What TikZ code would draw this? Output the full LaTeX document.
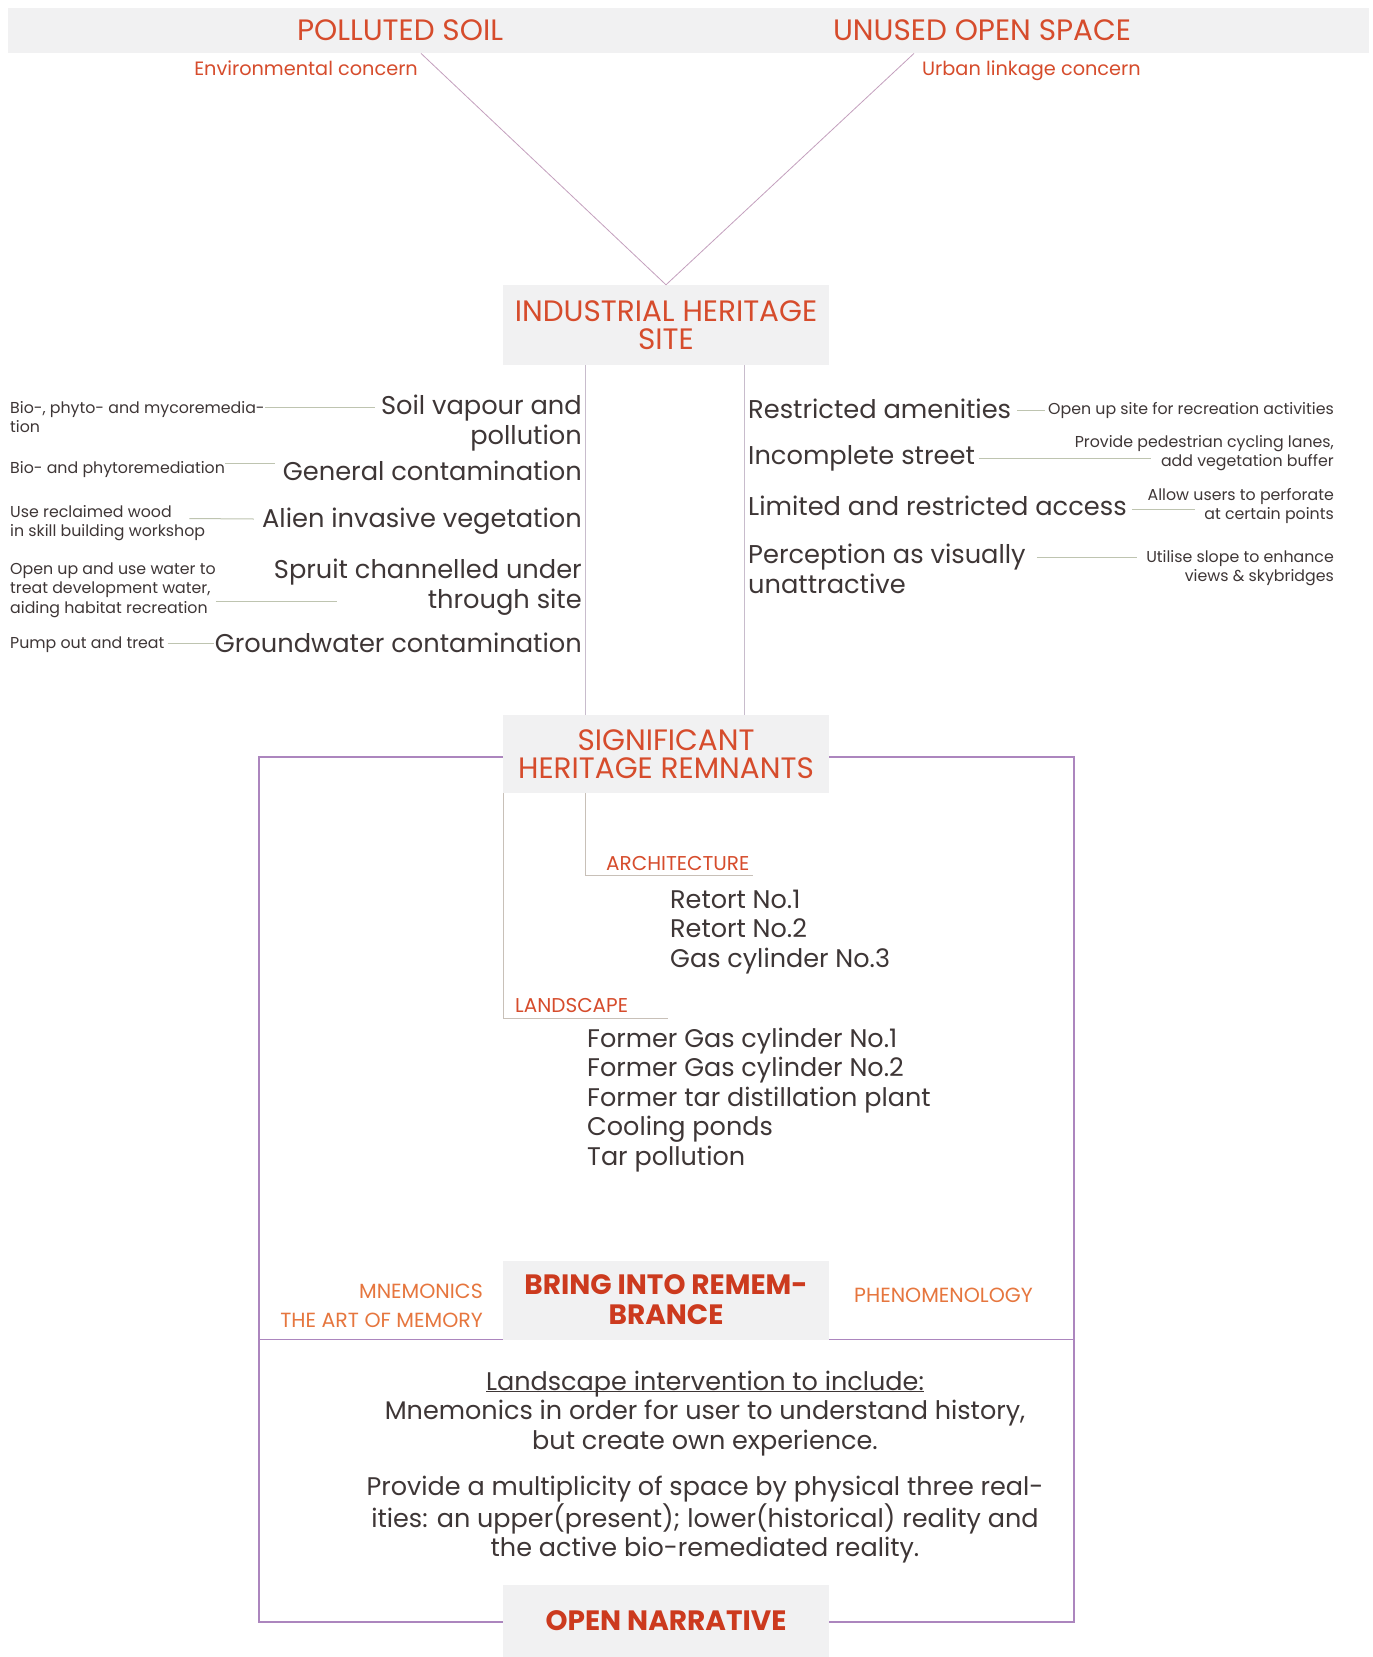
\documentclass[tikz,border=0pt]{standalone}
\usepackage{fontspec}
\setmainfont{Poppins}
\usetikzlibrary{calc}
\definecolor{tred}{RGB}{214,76,44}
\definecolor{tredb}{RGB}{204,58,30}
\definecolor{torange}{RGB}{230,118,62}
\definecolor{tgray}{RGB}{62,54,54}
\definecolor{boxgray}{RGB}{241,241,242}
\definecolor{framec}{RGB}{172,134,190}
\definecolor{vlinec}{RGB}{200,188,204}
\definecolor{nlinec}{RGB}{190,196,176}
\definecolor{tlinec}{RGB}{200,192,184}
\definecolor{dlinec}{RGB}{196,160,190}
\tikzset{
  title/.style={text=tred, inner sep=0, font=\fontsize{29.5}{28}\selectfont, align=center},
  btitle/.style={text=tredb, inner sep=0, font=\bfseries\fontsize{28}{30}\selectfont, align=center},
  olab/.style={text=torange, inner sep=0, font=\fontsize{20.5}{29}\selectfont},
  rlab/.style={text=tred, inner sep=0, font=\fontsize{20}{29}\selectfont},
  clab/.style={text=tred, inner sep=0, font=\fontsize{19.3}{29}\selectfont},
  big/.style={text=tgray, inner sep=0, font=\fontsize{25.7}{30}\selectfont},
  item/.style={text=tgray, inner sep=0, font=\fontsize{25.5}{29.5}\selectfont, align=left},
  small/.style={text=tgray, inner sep=0, font=\fontsize{15.8}{19.5}\selectfont},
  para/.style={text=tgray, inner sep=0, font=\fontsize{25.5}{29.5}\selectfont, align=center},
  gbox/.style={fill=boxgray, draw=none, minimum width=326, inner sep=0},
  frame/.style={draw=framec, line width=1.2pt},
  vline/.style={draw=vlinec, line width=1pt},
  nline/.style={draw=nlinec, line width=1pt},
  tline/.style={draw=tlinec, line width=1pt},
  dline/.style={draw=dlinec, line width=0.8pt},
}
\begin{document}
\begin{tikzpicture}[x=1pt,y=-1pt]
\useasboundingbox[fill=white] (0,0) rectangle (1373,1657);
% top band
\node[fill=boxgray, minimum width=1361, minimum height=45, inner sep=0, anchor=north west] (band) at (8,8) {};
\node[title] (ps) at (400,30) {POLLUTED SOIL};
\node[title] (uos) at (982,30) {UNUSED OPEN SPACE};
\node[clab, anchor=base east] (env) at (418,75) {Environmental concern};
\node[clab, anchor=base west] (urb) at (922,75) {Urban linkage concern};
% boxes
\node[gbox, minimum height=80] (ish) at (666,325) {};
\node[title] at (ish) {INDUSTRIAL HERITAGE\\SITE};
\node[gbox, minimum height=78] (shr) at (666,754) {};
\node[title] at (shr) {SIGNIFICANT\\HERITAGE REMNANTS};
\node[gbox, minimum height=79] (bir) at (666,1300) {};
\node[btitle] at (bir) {BRING INTO REMEM-\\BRANCE};
\node[gbox, minimum height=72] (on) at (666,1621) {};
\node[btitle] at (on) {OPEN NARRATIVE};
% V lines
\draw[dline] ($(ps.south |- band.south)+(21,0)$) -- (ish.north);
\draw[dline] ($(uos.south |- band.south)+(-68,0)$) -- (ish.north);
% verticals between boxes
\draw[vline] ($(ish.south west)+(83,0)$) -- ($(shr.north west)+(83,0)$);
\draw[vline] ($(ish.south east)+(-85,0)$) -- ($(shr.north east)+(-85,0)$);
% left problems
\node[big, anchor=east, align=right] (sv) at (582,423) {Soil vapour and\\pollution};
\node[big, anchor=east] (gc) at (582,471) {General contamination};
\node[big, anchor=east] (aiv) at (582,521) {Alien invasive vegetation};
\node[big, anchor=east, align=right] (spr) at (582,587.5) {Spruit channelled under\\through site};
\node[big, anchor=east] (gw) at (582,643) {Groundwater contamination};
% left notes
\node[small, anchor=west, align=left] (n1) at (10,417) {Bio-, phyto- and mycoremedia-\\tion};
\node[small, anchor=west] (n2) at (10,470) {Bio- and phytoremediation};
\node[small, anchor=west, align=left] (n3) at (10,523) {Use reclaimed wood\\in skill building workshop};
\node[small, anchor=west, align=left] (n4) at (10,590) {Open up and use water to\\treat development water,\\aiding habitat recreation};
\node[small, anchor=west] (n5) at (10,645) {Pump out and treat};
\draw[nline] ($(n1.east)+(0,-10)$) -- ($(sv.west)+(-6,-16)$);
\draw[nline] ($(n2.east)+(0,-7)$) -- ($(gc.west)+(-8,-8)$);
\draw[nline] ($(n3.east)+(-16,-4.5)$) -- ($(aiv.west)+(-8,-2)$);
\draw[nline] ($(n4.east)+(0,11)$) -- ($(spr.west)+(63,13.5)$);
\draw[nline] ($(n5.east)+(3,-2)$) -- ($(gw.west)+(-1,0)$);
% right problems
\node[big, anchor=west] (ra) at (748,409) {Restricted amenities};
\node[big, anchor=west] (ic) at (748,458) {Incomplete street};
\node[big, anchor=west] (lra) at (748,506) {Limited and restricted access};
\node[big, anchor=west, align=left] (pav) at (748,569) {Perception as visually\\unattractive};
% right notes
\node[small, anchor=east] (r1) at (1334,411) {Open up site for recreation activities};
\node[small, anchor=east, align=right] (r2) at (1334,453) {Provide pedestrian cycling lanes,\\add vegetation buffer};
\node[small, anchor=east, align=right] (r3) at (1334,506) {Allow users to perforate\\at certain points};
\node[small, anchor=east, align=right] (r4) at (1334,568) {Utilise slope to enhance\\views \& skybridges};
\draw[nline] ($(ra.east)+(6,1)$) -- ($(r1.west)+(-3,-1)$);
\draw[nline] ($(ic.east)+(4,0)$) -- ($(r2.west)+(76,5)$);
\draw[nline] ($(lra.east)+(5,3)$) -- ($(r3.west)+(47,3)$);
\draw[nline] ($(pav.east)+(11,-12)$) -- ($(r4.west)+(-9,-11)$);
% heritage tree
\node[rlab, anchor=west] (arch) at (606,863) {ARCHITECTURE};
\node[item, anchor=west] (ret) at (670,932) {Retort No.1\\Retort No.2\\Gas cylinder No.3};
\node[rlab, anchor=west] (land) at (515,1005) {LANDSCAPE};
\node[item, anchor=west] (litems) at (587,1100) {Former Gas cylinder No.1\\Former Gas cylinder No.2\\Former tar distillation plant\\Cooling ponds\\Tar pollution};
\draw[tline] ($(shr.south west)+(83,0)$) |- ($(arch.east)+(3,12)$);
\draw[tline] ($(shr.south west)+(1,0)$) |- ($(land.east)+(40,13)$);
% frame
\coordinate (fTL) at (259,757);
\coordinate (fTR) at (1074,757);
\coordinate (fBL) at (259,1622);
\coordinate (fBR) at (1074,1622);
\draw[frame] (shr.west |- fTL) -- (fTL) -- (fBL) -- (on.west |- fBL);
\draw[frame] (shr.east |- fTR) -- (fTR) -- (fBR) -- (on.east |- fBR);
\draw[frame] (fTL |- bir.south) -- (bir.south west);
\draw[frame] (bir.south east) -- (fTR |- bir.south);
% remembrance labels
\node[olab, anchor=east, align=right] (mn) at (483,1305.5) {MNEMONICS\\THE ART OF MEMORY};
\node[olab, anchor=west] (ph) at (854,1295) {PHENOMENOLOGY};
% paragraphs
\node[para] (tb1) at (705,1423) {\underline{\smash{Landscape intervention to include:}}\\Mnemonics in order for user to understand history,\\but create own experience.};
\node[para] (tb2) at (705,1520) {Provide a multiplicity of space by physical three real-\\ities: an upper(present); lower(historical) reality and\\the active bio-remediated reality.};
\end{tikzpicture}
\end{document}
